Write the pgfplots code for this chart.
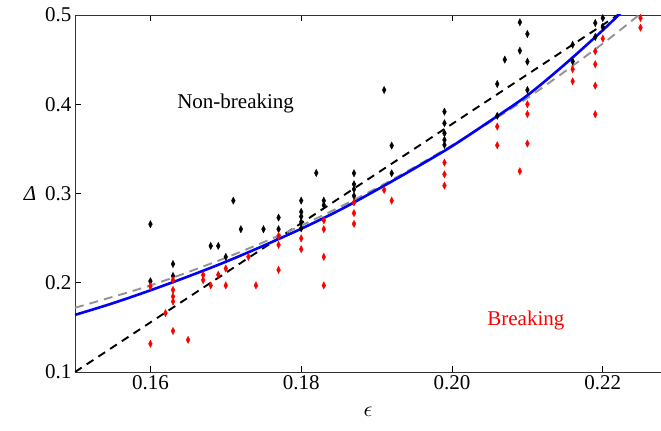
\documentclass[border=0pt]{standalone}
\usepackage{fontspec}
\setmainfont{Liberation Serif}
\usepackage{pgfplots}
\pgfplotsset{compat=1.18}
\usetikzlibrary{calc}
\definecolor{pureblue}{RGB}{0,0,255}
\definecolor{purered}{RGB}{255,0,0}
\newcommand{\bigfont}{\fontsize{21bp}{25bp}\selectfont}
\begin{document}
\begin{tikzpicture}
\begin{axis}[
  name=ax,
  scale only axis, width=586bp, height=357bp,
  xmin=0.15, xmax=0.22772, ymin=0.1, ymax=0.5,
  axis x line=box, axis y line*=left,
  axis line style={line width=0.8bp, black!80},
  tick align=inside, major tick length=6bp,
  tick style={black, line width=0.8bp},
  xtick={0.16,0.18,0.20,0.22},
  ytick={0.1,0.2,0.3,0.4,0.5},
  tick label style={font=\bigfont\rmfamily},
  /pgf/number format/assume math mode=true,
  xticklabel style={/pgf/number format/.cd, fixed, fixed zerofill, precision=2},
  yticklabel style={/pgf/number format/.cd, fixed, fixed zerofill, precision=1},
  every axis x label/.style={at={(axis description cs:0.5,0)}, anchor=center, yshift=-40bp},
  every axis y label/.style={at={(axis description cs:0,0.5)}, anchor=center, xshift=-45bp},
  xlabel={\scalebox{2.2}{$\epsilon$}},
  ylabel={\bigfont\rmfamily\itshape Δ},
  clip=true,
]
% black dashed straight line
\addplot[black, line width=1.9bp, dash pattern=on 8bp off 6bp] coordinates {(0.15,0.1) (0.2235,0.5084)};
% gray dashed fit
\addplot[gray!85, line width=1.9bp, dash pattern=on 9bp off 6bp, smooth] coordinates {
(0.15,0.172) (0.16,0.197) (0.17,0.228) (0.18,0.264) (0.19,0.306) (0.20,0.354) (0.21,0.407) (0.22,0.468) (0.2255,0.505)};
% blue solid fit
\addplot[pureblue, line width=2.6bp, smooth] coordinates {
(0.15,0.164) (0.155,0.177) (0.16,0.1915) (0.165,0.207) (0.17,0.2235) (0.175,0.2415) (0.18,0.2605) (0.185,0.281) (0.19,0.304) (0.195,0.328) (0.20,0.353) (0.205,0.381) (0.21,0.410) (0.215,0.445) (0.22,0.483) (0.2228,0.506)};
% non-breaking (black)
\addplot[only marks, mark=diamond*, mark size=3.6bp, mark options={xscale=0.7, fill=black, draw=black, line width=0.4bp}] coordinates {
(0.160,0.2656) (0.160,0.2018) (0.163,0.221) (0.163,0.2076) (0.168,0.2413) (0.169,0.2413)
(0.170,0.229) (0.171,0.292) (0.172,0.260) (0.175,0.260) (0.177,0.273) (0.177,0.260)
(0.180,0.292) (0.180,0.2794) (0.180,0.2742) (0.180,0.2682) (0.180,0.261)
(0.182,0.323) (0.183,0.292) (0.183,0.287)
(0.187,0.3227) (0.187,0.3104) (0.187,0.3048) (0.187,0.2973)
(0.191,0.416) (0.192,0.3537) (0.192,0.3227)
(0.199,0.3917) (0.199,0.3787) (0.199,0.3675) (0.199,0.360) (0.199,0.3544)
(0.206,0.4227) (0.206,0.387) (0.207,0.450)
(0.209,0.4918) (0.209,0.460) (0.210,0.4787) (0.210,0.4477) (0.210,0.416)
(0.216,0.4667) (0.216,0.448) (0.219,0.491) (0.219,0.4754) (0.220,0.4966) (0.220,0.4866)};
% breaking (red)
\addplot[only marks, mark=diamond*, mark size=3.6bp, mark options={xscale=0.7, fill=purered, draw=purered, line width=0.4bp}] coordinates {
(0.160,0.196) (0.160,0.1316) (0.162,0.166)
(0.163,0.203) (0.163,0.192) (0.163,0.1846) (0.163,0.179) (0.163,0.146)
(0.165,0.136) (0.167,0.2087) (0.167,0.203) (0.168,0.197) (0.169,0.209)
(0.170,0.216) (0.170,0.197) (0.173,0.229) (0.174,0.197)
(0.177,0.2526) (0.177,0.2424) (0.177,0.2144) (0.180,0.2497) (0.180,0.2376)
(0.183,0.270) (0.183,0.260) (0.183,0.229) (0.183,0.197)
(0.187,0.290) (0.187,0.278) (0.187,0.266) (0.191,0.304) (0.192,0.292)
(0.199,0.3346) (0.199,0.3215) (0.199,0.3089)
(0.206,0.375) (0.206,0.354) (0.209,0.325) (0.210,0.400) (0.210,0.389) (0.210,0.356)
(0.216,0.4392) (0.216,0.4257) (0.219,0.4593) (0.219,0.4448) (0.219,0.4208) (0.219,0.3888)
(0.220,0.4735) (0.225,0.4966) (0.225,0.4858)};
\node[font=\bigfont\rmfamily, anchor=base] at (axis cs:0.1713,0.3955) {Non-breaking};
\node[font=\bigfont\rmfamily, text=purered, anchor=base] at (axis cs:0.2098,0.152) {Breaking};
\end{axis}
\pgfresetboundingbox
\path[use as bounding box] ($(ax.north west)+(-75bp,15bp)$) rectangle ($(ax.north west)+(586bp,-416bp)$);
\end{tikzpicture}
\end{document}
